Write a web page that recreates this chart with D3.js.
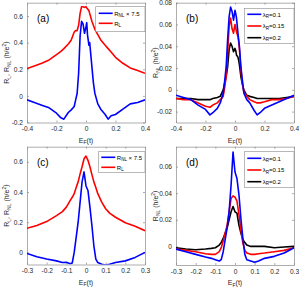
<!DOCTYPE html>
<html>
<head>
<meta charset="utf-8">
<script src="https://cdnjs.cloudflare.com/ajax/libs/d3/7.8.5/d3.min.js"></script>
<style>
  body { margin: 0; background: #fff; }
  svg { display: block; font-family: "Liberation Sans", Arial, sans-serif; }
  .tick text { fill: #262626; font-size: 6.6px; }
</style>
</head>
<body>
<svg id="chart" width="299" height="291"></svg>
<script>
// energy grids for the top and bottom rows
var efTop = [-0.4,-0.35,-0.3,-0.25,-0.2,-0.17,-0.15,-0.12,-0.1,-0.08,-0.07,-0.06,-0.05,-0.04,-0.03,-0.02,-0.01,0,0.005,0.01,0.02,0.025,0.03,0.04,0.05,0.06,0.08,0.1,0.13,0.15,0.17,0.2,0.25,0.3,0.35,0.4];
var efBot = [-0.3,-0.25,-0.2,-0.15,-0.12,-0.1,-0.08,-0.07,-0.06,-0.05,-0.04,-0.03,-0.02,-0.01,0,0.01,0.02,0.03,0.04,0.05,0.06,0.08,0.1,0.12,0.15,0.2,0.25,0.3];

// panel (a)
var aRL  = [0.205,0.225,0.245,0.27,0.31,0.335,0.355,0.39,0.42,0.48,0.49,0.49,0.53,0.62,0.67,0.67,0.665,0.67,0.66,0.655,0.64,0.62,0.6,0.56,0.53,0.5,0.46,0.42,0.38,0.355,0.33,0.29,0.245,0.21,0.19,0.17];
var aRNL = [-0.03,-0.05,-0.07,-0.09,-0.13,-0.165,-0.175,-0.125,-0.105,-0.08,-0.03,0.02,0.17,0.45,0.56,0.54,0.47,0.52,0.55,0.46,0.38,0.4,0.34,0.22,0.1,0.02,-0.06,-0.1,-0.14,-0.175,-0.15,-0.14,-0.1,-0.06,-0.05,-0.03];

// panel (b)
var bL01  = [-0.005,-0.007,-0.009,-0.014,-0.018,-0.023,-0.021,-0.017,-0.012,-0.003,0.008,0.021,0.046,0.067,0.076,0.072,0.064,0.073,0.07,0.066,0.052,0.046,0.04,0.021,0.009,-0.003,-0.009,-0.012,-0.019,-0.023,-0.021,-0.017,-0.014,-0.011,-0.008,-0.005];
var bL015 = [-0.008,-0.009,-0.009,-0.012,-0.015,-0.016,-0.014,-0.012,-0.009,-0.006,0.002,0.012,0.034,0.058,0.066,0.056,0.052,0.06,0.057,0.053,0.049,0.044,0.037,0.018,0.006,-0.002,-0.006,-0.009,-0.011,-0.012,-0.012,-0.011,-0.009,-0.009,-0.008,-0.006];
var bL02  = [-0.008,-0.008,-0.008,-0.009,-0.009,-0.009,-0.008,-0.007,-0.006,0,0.006,0.012,0.021,0.037,0.043,0.04,0.035,0.038,0.036,0.032,0.03,0.027,0.023,0.012,0.005,0,-0.005,-0.006,-0.007,-0.008,-0.008,-0.008,-0.008,-0.008,-0.007,-0.006];

// panel (c)
var cRL  = [0.16,0.178,0.204,0.244,0.27,0.3,0.344,0.365,0.389,0.43,0.467,0.52,0.567,0.62,0.638,0.61,0.567,0.515,0.467,0.43,0.389,0.333,0.289,0.26,0.233,0.196,0.173,0.144];
var cRNL = [-0.007,-0.029,-0.044,-0.056,-0.067,-0.065,-0.075,-0.07,0.0,0.1,0.2,0.333,0.467,0.533,0.44,0.41,0.3,0.178,0.044,-0.044,-0.067,-0.078,-0.084,-0.078,-0.067,-0.056,-0.033,0];

// panel (d)
var dL01  = [-0.002,-0.004,-0.006,-0.008,-0.009,-0.01,-0.011,-0.01,-0.004,0.005,0.014,0.026,0.046,0.071,0.056,0.051,0.039,0.021,0.006,-0.006,-0.01,-0.011,-0.012,-0.011,-0.009,-0.0075,-0.005,-0.001];
var dL015 = [-0.002,-0.003,-0.004,-0.0055,-0.006,-0.006,-0.004,-0.001,0.004,0.01,0.016,0.026,0.036,0.038,0.037,0.034,0.024,0.0125,0.0025,-0.003,-0.005,-0.006,-0.006,-0.0055,-0.005,-0.004,-0.003,-0.001];
var dL02  = [-0.001,-0.002,-0.0025,-0.002,-0.0015,-0.001,0.001,0.003,0.006,0.01,0.014,0.02,0.026,0.03,0.026,0.025,0.016,0.01,0.005,0.003,0.001,0,0,0,0,-0.001,-0.0005,0];

// ticks
var xTicksTop = [-0.4,-0.2,0,0.2,0.4];
var xTicksBot = [-0.3,-0.2,-0.1,0,0.1,0.2,0.3];
var yTicksA = [-0.2,0,0.2,0.4,0.6];
var yTicksB = [-0.02,0,0.02,0.04,0.06,0.08];
var yTicksC = [0,0.2,0.4,0.6];
var yTicksD = [0,0.02,0.04,0.06];

var svg = d3.select("#chart");
var BLUE = "#0000ff", RED = "#ff0000", BLACK = "#000000";
var fmt = function(d){ return String(+d.toFixed(3)); };

// draws one panel: frame, ticks, curves, legend
function drawPanel(p) {
  var x = d3.scaleLinear().domain(p.xDomain).range([p.left, p.right]);
  var y = d3.scaleLinear().domain(p.yDomain).range([p.bottom, p.top]);
  var g = svg.append("g");

  var clipId = "clip-" + p.name.replace(/[()]/g, "");
  svg.append("clipPath").attr("id", clipId).append("rect")
    .attr("x", p.left).attr("y", p.top)
    .attr("width", p.right - p.left).attr("height", p.bottom - p.top);

  // axes with inward ticks, mirrored on top and right
  var tl = 2;
  g.append("g").attr("transform", "translate(0," + p.bottom + ")")
    .call(d3.axisBottom(x).tickValues(p.xTicks).tickFormat(fmt).tickSizeInner(-tl).tickSizeOuter(0).tickPadding(4));
  g.append("g").attr("transform", "translate(0," + p.top + ")")
    .call(d3.axisTop(x).tickValues(p.xTicks).tickFormat("").tickSizeInner(-tl).tickSizeOuter(0));
  g.append("g").attr("transform", "translate(" + p.left + ",0)")
    .call(d3.axisLeft(y).tickValues(p.yTicks).tickFormat(fmt).tickSizeInner(-tl).tickSizeOuter(0).tickPadding(4));
  g.append("g").attr("transform", "translate(" + p.right + ",0)")
    .call(d3.axisRight(y).tickValues(p.yTicks).tickFormat("").tickSizeInner(-tl).tickSizeOuter(0));
  g.selectAll(".domain, .tick line").attr("stroke", "#8a8a8a").attr("stroke-width", 0.7);

  // curves
  var line = d3.line()
    .x(function(d){ return x(d[0]); })
    .y(function(d){ return y(d[1]); });
  p.series.forEach(function(s){
    var pts = p.ef.map(function(e, i){ return [e, s.values[i]]; });
    g.append("path").datum(pts)
      .attr("clip-path", "url(#" + clipId + ")")
      .attr("fill", "none")
      .attr("stroke", s.color)
      .attr("stroke-width", 1.6)
      .attr("stroke-linejoin", "round")
      .attr("d", line);
  });

  // panel letter
  g.append("text").attr("x", p.left + 10).attr("y", p.top + 19)
    .attr("font-size", 10).attr("fill", "#000").text(p.name);

  // x label E_F(t)
  var xl = g.append("text").attr("x", (p.left + p.right) / 2).attr("y", p.bottom + 20)
    .attr("text-anchor", "middle").attr("font-size", 7).attr("fill", "#262626");
  xl.append("tspan").text("E");
  xl.append("tspan").attr("font-size", 5).attr("dy", 1.5).text("F");
  xl.append("tspan").attr("dy", -1.5).text("(t)");

  // y label
  var cy = (p.top + p.bottom) / 2;
  var yl = g.append("text").attr("transform", "translate(" + p.yLabelX + "," + cy + ") rotate(-90)")
    .attr("text-anchor", "middle").attr("font-size", 7).attr("fill", "#262626");
  p.yLabel.forEach(function(part){
    var t = yl.append("tspan").text(part.t);
    if (part.sub) t.attr("font-size", 5).attr("dy", 1.5);
    else if (part.sup) t.attr("font-size", 5).attr("dy", -3);
    else if (part.back) t.attr("dy", part.back);
  });

  // legend
  var lg = p.legend;
  g.append("rect").attr("x", lg.x).attr("y", lg.y).attr("width", p.right - lg.x).attr("height", lg.h)
    .attr("fill", "#fff").attr("stroke", "#8a8a8a").attr("stroke-width", 0.6);
  lg.items.forEach(function(it, i){
    var yy = lg.y + lg.first + i * lg.step;
    g.append("line").attr("x1", lg.x + 3).attr("x2", lg.x + 17).attr("y1", yy).attr("y2", yy)
      .attr("stroke", it.color).attr("stroke-width", 1.6);
    var tx = g.append("text").attr("x", lg.x + 18.5).attr("y", yy + 2.2)
      .attr("font-size", 6).attr("fill", "#000");
    tx.append("tspan").text(it.main);
    tx.append("tspan").attr("font-size", 4.5).attr("dy", 1.5).text(it.sub);
    tx.append("tspan").attr("dy", -1.5).text(it.rest);
  });
}

var labelRL = [{t:"R"},{t:"L",sub:true},{t:", R",back:-1.5},{t:"NL",sub:true},{t:" (h/e",back:-1.5},{t:"2",sup:true},{t:")",back:1.5}];
var labelRNL = [{t:"R"},{t:"NL",sub:true},{t:" (h/e",back:-1.5},{t:"2",sup:true},{t:")",back:1.5}];

var legRL = [
  {color: BLUE, main: "R", sub: "NL", rest: " × 7.5"},
  {color: RED, main: "R", sub: "L", rest: ""}
];
var legLam = [
  {color: BLUE, main: "λ", sub: "R", rest: "=0.1"},
  {color: RED, main: "λ", sub: "R", rest: "=0.15"},
  {color: BLACK, main: "λ", sub: "R", rest: "=0.2"}
];

drawPanel({name: "(a)", left: 27, right: 145, top: 2.7, bottom: 122.5,
  xDomain: [-0.4, 0.4], yDomain: [-0.2, 0.7], xTicks: xTicksTop, yTicks: yTicksA,
  ef: efTop, series: [{values: aRL, color: RED}, {values: aRNL, color: BLUE}],
  yLabelX: 9, yLabel: labelRL,
  legend: {x: 95.7, y: 6.7, h: 25, first: 6.6, step: 10, items: legRL}});

drawPanel({name: "(b)", left: 176, right: 294, top: 2.7, bottom: 122.5,
  xDomain: [-0.4, 0.4], yDomain: [-0.03, 0.08], xTicks: xTicksTop, yTicks: yTicksB,
  ef: efTop, series: [{values: bL02, color: BLACK}, {values: bL015, color: RED}, {values: bL01, color: BLUE}],
  yLabelX: 158, yLabel: labelRNL,
  legend: {x: 244.3, y: 8.3, h: 35, first: 6, step: 11.7, items: legLam}});

drawPanel({name: "(c)", left: 27, right: 145, top: 146.7, bottom: 264.5,
  xDomain: [-0.3, 0.3], yDomain: [-0.08, 0.7], xTicks: xTicksBot, yTicks: yTicksC,
  ef: efBot, series: [{values: cRL, color: RED}, {values: cRNL, color: BLUE}],
  yLabelX: 9, yLabel: labelRL,
  legend: {x: 98.3, y: 151.7, h: 20.6, first: 5.6, step: 10, items: legRL}});

drawPanel({name: "(d)", left: 176, right: 294, top: 146.7, bottom: 265,
  xDomain: [-0.3, 0.3], yDomain: [-0.014, 0.075], xTicks: xTicksBot, yTicks: yTicksD,
  ef: efBot, series: [{values: dL02, color: BLACK}, {values: dL015, color: RED}, {values: dL01, color: BLUE}],
  yLabelX: 158, yLabel: labelRNL,
  legend: {x: 244.3, y: 151.7, h: 35.6, first: 6.6, step: 11.7, items: legLam}});
</script>
</body>
</html>
